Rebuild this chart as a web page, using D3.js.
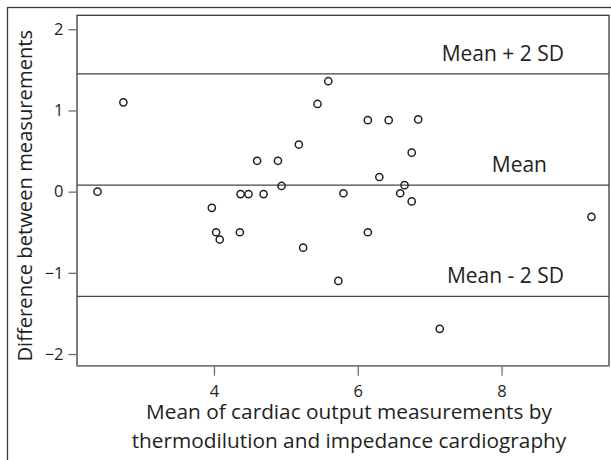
<!DOCTYPE html>
<html>
<head>
<meta charset="utf-8">
<script src="https://cdn.jsdelivr.net/npm/d3@7"></script>
<style>
  html, body { margin: 0; padding: 0; background: #fff; }
  svg { display: block; font-family: "Open Sans", "Noto Sans", sans-serif; }
</style>
</head>
<body>
<svg id="chart" width="611" height="460"></svg>
<script>
// ---- data ----
const meanValues = [2.38, 2.74, 3.97, 4.03, 4.08, 4.36, 4.37, 4.48, 4.60, 4.69, 4.89, 4.94, 5.18, 5.24, 5.44, 5.59, 5.73, 5.80, 6.14, 6.14, 6.30, 6.43, 6.59, 6.65, 6.75, 6.75, 6.84, 7.14, 9.25];
const diffValues = [0.00, 1.10, -0.20, -0.50, -0.59, -0.50, -0.03, -0.03, 0.38, -0.03, 0.38, 0.07, 0.58, -0.69, 1.08, 1.36, -1.10, -0.02, 0.88, -0.50, 0.18, 0.88, -0.02, 0.08, 0.48, -0.12, 0.89, -1.69, -0.31];
const xTickValues = [4, 6, 8];
const yTickValues = [-2, -1, 0, 1, 2];
const refValues = [1.45, 0.08, -1.29];
const refLabels = ["Mean + 2 SD", "Mean", "Mean - 2 SD"];
const xTitleLines = ["Mean of cardiac output measurements by", "thermodilution and impedance cardiography"];
const yTitle = "Difference between measurements";

// ---- layout ----
const svg = d3.select("#chart");
const plot = { left: 77, right: 609, top: 15.3, bottom: 365.7 };
const ink = "#231f20";

const x = d3.scaleLinear().domain([2.095, 9.494]).range([plot.left, plot.right]);
const y = d3.scaleLinear().domain([-2.144, 2.172]).range([plot.bottom, plot.top]);

// outer frame (cut off at right/bottom)
svg.append("rect")
  .attr("x", 7.5).attr("y", 7.5).attr("width", 620).attr("height", 470)
  .attr("fill", "none").attr("stroke", "#3a3a3a").attr("stroke-width", 1.3);

// plot frame
svg.append("rect")
  .attr("x", plot.left).attr("y", plot.top)
  .attr("width", plot.right - plot.left).attr("height", plot.bottom - plot.top)
  .attr("fill", "none").attr("stroke", "#3a3a3a").attr("stroke-width", 1.3);

// bottom border slightly lighter
svg.append("line")
  .attr("x1", plot.left).attr("x2", plot.right)
  .attr("y1", plot.bottom).attr("y2", plot.bottom)
  .attr("stroke", "#7a7a7a").attr("stroke-width", 1.4);

// axes
const xAxis = svg.append("g")
  .attr("transform", `translate(0,${plot.bottom})`)
  .call(d3.axisBottom(x).tickValues(xTickValues).tickSize(10).tickPadding(10).tickFormat(d3.format("d")));
xAxis.select(".domain").remove();
xAxis.selectAll(".tick line").attr("stroke", "#6e6e6e").attr("stroke-width", 1.3);
xAxis.selectAll(".tick text").attr("fill", ink).attr("font-size", 16.5)
  .style("font-family", '"Open Sans", sans-serif');

const yAxis = svg.append("g")
  .attr("transform", `translate(${plot.left},0)`)
  .call(d3.axisLeft(y).tickValues(yTickValues).tickSize(8.5).tickPadding(5).tickFormat(d3.format("d")));
yAxis.select(".domain").remove();
yAxis.selectAll(".tick line").attr("stroke", "#6e6e6e").attr("stroke-width", 1.3);
yAxis.selectAll(".tick text").attr("fill", ink).attr("font-size", 16.5)
  .style("font-family", '"Open Sans", sans-serif');

// reference lines
const labelEnds = [564, 547, 564];
refValues.forEach((v, i) => {
  svg.append("line")
    .attr("x1", plot.left).attr("x2", plot.right)
    .attr("y1", y(v)).attr("y2", y(v))
    .attr("stroke", "#444").attr("stroke-width", 1.2);
  svg.append("text")
    .attr("x", labelEnds[i]).attr("y", y(v) - 13)
    .attr("text-anchor", "end")
    .attr("fill", ink).attr("font-size", 21)
    .text(refLabels[i]);
});

// points
svg.append("g").selectAll("circle")
  .data(meanValues.map((m, i) => [m, diffValues[i]]))
  .join("circle")
  .attr("cx", d => x(d[0])).attr("cy", d => y(d[1]))
  .attr("r", 3.6)
  .attr("fill", "none").attr("stroke", ink).attr("stroke-width", 1.5);

// x title
svg.append("text")
  .attr("y", 418.5)
  .attr("text-anchor", "middle").attr("fill", ink).attr("font-size", 20.8)
  .selectAll("tspan").data(xTitleLines).join("tspan")
  .attr("x", 349).attr("dy", (d, i) => i === 0 ? 0 : 29)
  .text(d => d);

// y title
svg.append("text")
  .attr("transform", `translate(31.5,195.7) rotate(-90)`)
  .attr("text-anchor", "middle").attr("fill", ink).attr("font-size", 20.2)
  .text(yTitle);
</script>
</body>
</html>
